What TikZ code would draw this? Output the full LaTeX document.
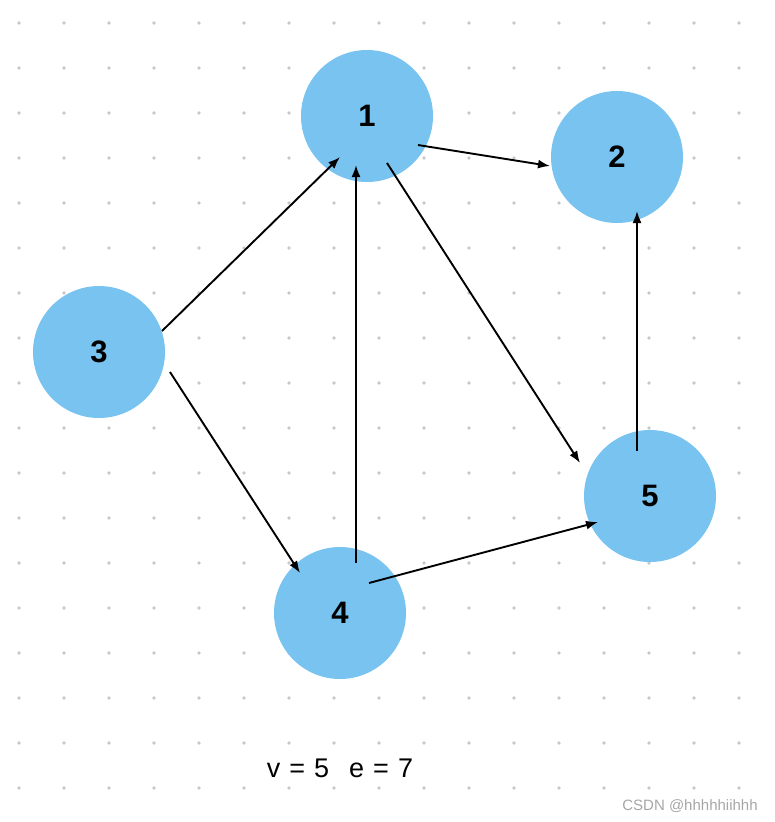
\documentclass[tikz,border=0pt]{standalone}
\usepackage{fontspec}
\setmainfont{Liberation Sans}
\usetikzlibrary{arrows.meta}
\definecolor{vblue}{RGB}{120,195,240}
\definecolor{dotgray}{RGB}{200,200,200}
\tikzset{
  vert/.style={circle,fill=vblue,minimum size=132pt,inner sep=0pt,
    font=\fontsize{31}{31}\selectfont\bfseries},
  arr/.style={line width=1.9pt,-{Latex[length=12pt,width=9pt]}}
}

\begin{document}
\begin{tikzpicture}[x=1pt,y=-1pt]
\useasboundingbox (0,0) rectangle (774,822);
% dot grid
\foreach \i in {0,...,16}
  \foreach \j in {0,...,17}
    \fill[dotgray] (19+45*\i,23+45*\j) circle (1.8pt);
% vertices
\node[vert] (n1) at (367,116) {1};
\node[vert] (n2) at (617,157) {2};
\node[vert] (n3) at (99,352) {3};
\node[vert] (n4) at (340,613) {4};
\node[vert] (n5) at (650,496) {5};
% edges
\draw[arr] ([shift={(51,29)}]n1.center) -- ([shift={(-67,9)}]n2.center);
\draw[arr] ([shift={(63,-21)}]n3.center) -- ([shift={(-27,41)}]n1.center);
\draw[arr] ([shift={(16,-50)}]n4.center) -- ([shift={(-11,49)}]n1.center);
\draw[arr] ([shift={(20,47)}]n1.center) -- ([shift={(-70,-33)}]n5.center);
\draw[arr] ([shift={(71,20)}]n3.center) -- ([shift={(-40,-40)}]n4.center);
\draw[arr] ([shift={(29,-30)}]n4.center) -- ([shift={(-52,26)}]n5.center);
\draw[arr] ([shift={(-13,-45)}]n5.center) -- ([shift={(20,54)}]n2.center);
% texts
\node[font=\fontsize{27}{27}\selectfont] (count) at (340,768)
  {v\hspace{9pt}=\hspace{9pt}5\hspace{20pt}e\hspace{9pt}=\hspace{9pt}7};
\node[font=\fontsize{15}{15}\selectfont,text=gray!70] (mark) at (690,806) {CSDN @hhhhhiihhh};
\end{tikzpicture}
\end{document}
